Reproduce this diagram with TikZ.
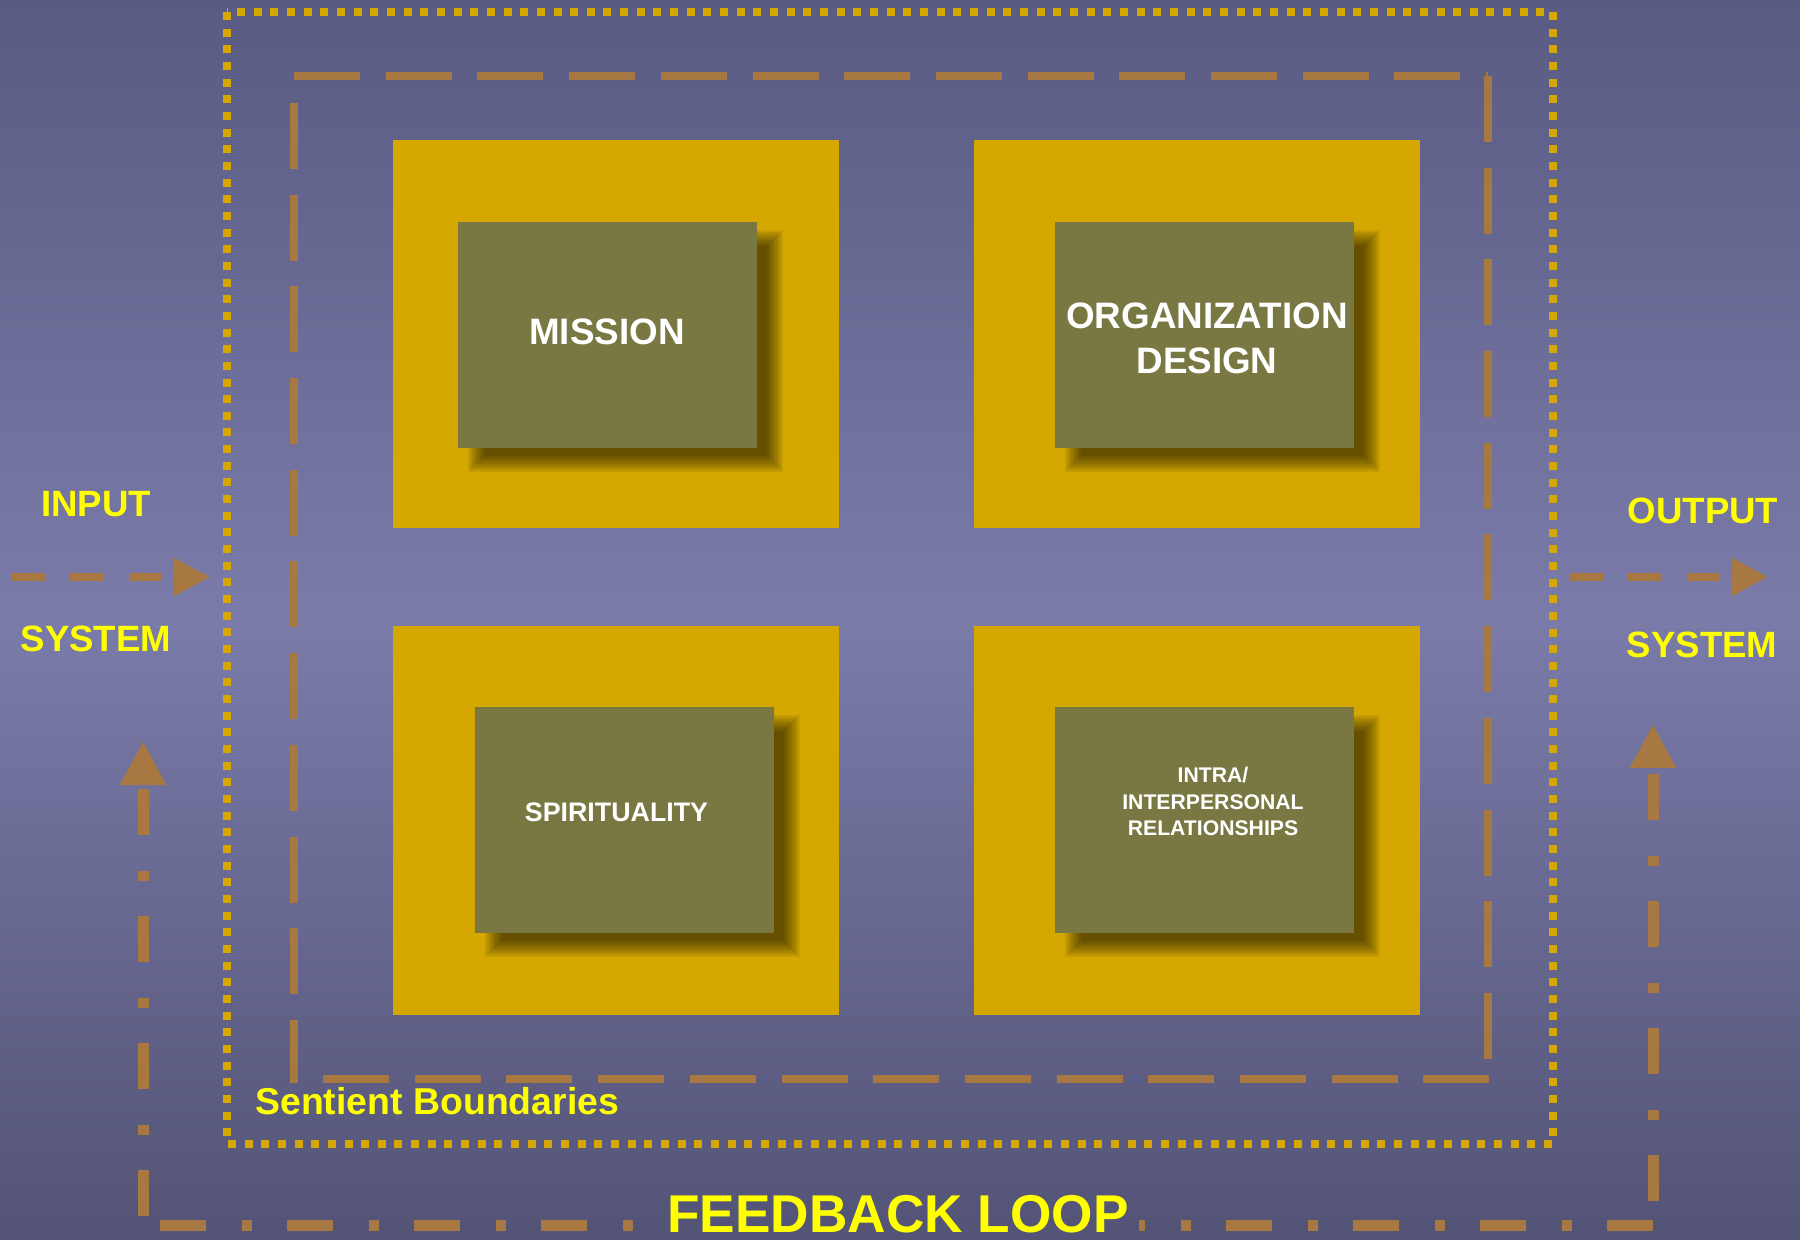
\documentclass[tikz,border=0pt]{standalone}
\usepackage{fontspec}
\setmainfont{Liberation Sans}
\usetikzlibrary{arrows.meta,calc}
\definecolor{bgtop}{RGB}{90,91,130}
\definecolor{bgmid}{RGB}{122,123,169}
\definecolor{bgbot}{RGB}{83,83,118}
\definecolor{gold}{RGB}{212,168,0}
\definecolor{olive}{RGB}{122,120,66}
\definecolor{rust}{RGB}{168,120,66}
\definecolor{txtyellow}{RGB}{255,255,0}
\pgfdeclarelayer{bglayer}
\pgfdeclarelayer{shadlayer}
\pgfsetlayers{bglayer,shadlayer,main}
\tikzset{
  goldsq/.style={fill=gold, draw=none, minimum width=223pt, minimum height=194pt, inner sep=0pt},
  olivebox/.style={fill=olive, draw=none, minimum width=149.5pt, minimum height=113pt, inner sep=0pt},
  bigwhite/.style={text=white, align=center, inner sep=0pt, font=\fontsize{18.4pt}{22.5pt}\selectfont\bfseries},
  yellowtxt/.style={text=txtyellow, inner sep=0pt, font=\fontsize{18.3pt}{22pt}\selectfont\bfseries},
  sentline/.style={draw=rust, line width=4pt, dash pattern=on 33pt off 12.85pt},
  dotline/.style={draw=gold, line width=4pt, dash pattern=on 4pt off 4.33pt},
  ioarrow/.style={draw=rust, line width=4pt, dash pattern=on 16.4pt off 12.75pt,
     -{Triangle[length=18pt,width=18pt]}, rust},
  fbline/.style={draw=rust, line width=5.5pt, dash pattern=on 23pt off 17.75pt on 5pt off 17.75pt},
  fbarrow/.style={fbline, -{Triangle[length=22pt,width=21.5pt]}, rust},
  softshadow/.style={fill=black, fill opacity=0.075, draw=none}
}
\newcommand{\dropshadow}[1]{%
  \begin{pgfonlayer}{shadlayer}
  \foreach \e in {-8,-6,...,8}{
    \fill[softshadow] ($(#1.north west)+(18-\e,16-\e)$) rectangle ($(#1.south east)+(18+\e,16+\e)$);
  }
  \end{pgfonlayer}}
\begin{document}
\begin{tikzpicture}[x=0.5pt,y=-0.5pt]
\useasboundingbox (0,0) rectangle (1800,1240);
\begin{pgfonlayer}{bglayer}
  \shade[top color=bgtop, bottom color=bgbot, middle color=bgmid] (0,0) rectangle (1800,1240);
  \node[goldsq] (sqA) at (616,334) {};
  \node[goldsq] (sqB) at (1196.5,334) {};
  \node[goldsq] (sqC) at (616,820.5) {};
  \node[goldsq] (sqD) at (1196.5,820.5) {};
\end{pgfonlayer}

% olive boxes
\node[olivebox] (mission) at (607.5,335) {};
\node[olivebox] (orgdes) at (1204.5,335) {};
\node[olivebox] (spirit) at (624.5,820) {};
\node[olivebox] (intra) at (1204.5,820) {};
\dropshadow{mission}
\dropshadow{orgdes}
\dropshadow{spirit}
\dropshadow{intra}

% box texts
\node[bigwhite] (missiontxt) at (607,332) {MISSION};
\node[bigwhite] (orgdestxt) at (1207,338.5) {ORGANIZATION\\DESIGN};
\node[text=white, inner sep=0pt, font=\fontsize{13.4pt}{16pt}\selectfont\bfseries] (spirittxt) at (616.5,812) {SPIRITUALITY};
\node[text=white, align=center, inner sep=0pt, font=\fontsize{10.6pt}{13.25pt}\selectfont\bfseries] (intratxt) at (1213,801.5) {INTRA/\\INTERPERSONAL\\RELATIONSHIPS};

% outer dotted boundary
\coordinate (dA) at (227,12);
\coordinate (dB) at (1553,1144);
\draw[dotline] (dA) rectangle (dB);

% sentient boundaries (dashed)
\coordinate (s1) at (294,76);
\coordinate (s2) at (1488,76);
\coordinate (s3) at (294,103);
\coordinate (s4) at (294,1083);
\coordinate (s5) at (323,1079);
\coordinate (s6) at (1491,1079);
\coordinate (s7) at (1488,1079);
\draw[sentline] (s1) -- (s2);
\draw[sentline] (s3) -- (s4);
\draw[sentline] (s5) -- (s6);
\draw[sentline] (s2) -- (s7);
\node[yellowtxt, anchor=base west, font=\fontsize{18.7pt}{22pt}\selectfont\bfseries] (sent) at (255,1114) {Sentient Boundaries};

% input / output
\coordinate (inA) at (12,577);
\coordinate (inB) at (210,577);
\coordinate (outA) at (1570,577);
\coordinate (outB) at (1768,577);
\draw[ioarrow] (inA) -- (inB);
\draw[ioarrow] (outA) -- (outB);
\node[yellowtxt] (input) at (96,504.5) {INPUT};
\node[yellowtxt] (sysL) at (96,638.5) {SYSTEM};
\node[yellowtxt] (output) at (1703,511) {OUTPUT};
\node[yellowtxt] (sysR) at (1702,644.5) {SYSTEM};

% feedback loop
\node[text=txtyellow, inner sep=0pt, anchor=base, font=\fontsize{26.6pt}{30pt}\selectfont\bfseries] (fb) at (898,1232) {FEEDBACK LOOP};
\coordinate (fL1) at (143,1216);
\coordinate (fL2) at (143,741);
\coordinate (fR1) at (1653,1201);
\coordinate (fR2) at (1653,724);
\coordinate (fbA) at (160,1225);
\coordinate (fbl) at (640,1225);
\coordinate (fbB) at (1653,1225);
\coordinate (fbr) at (1139,1225);
\draw[fbarrow] (fL1) -- (fL2);
\draw[fbarrow] (fR1) -- (fR2);
\draw[fbline] (fbA) -- (fbl);
\draw[fbline] (fbB) -- (fbr);
\end{tikzpicture}
\end{document}
